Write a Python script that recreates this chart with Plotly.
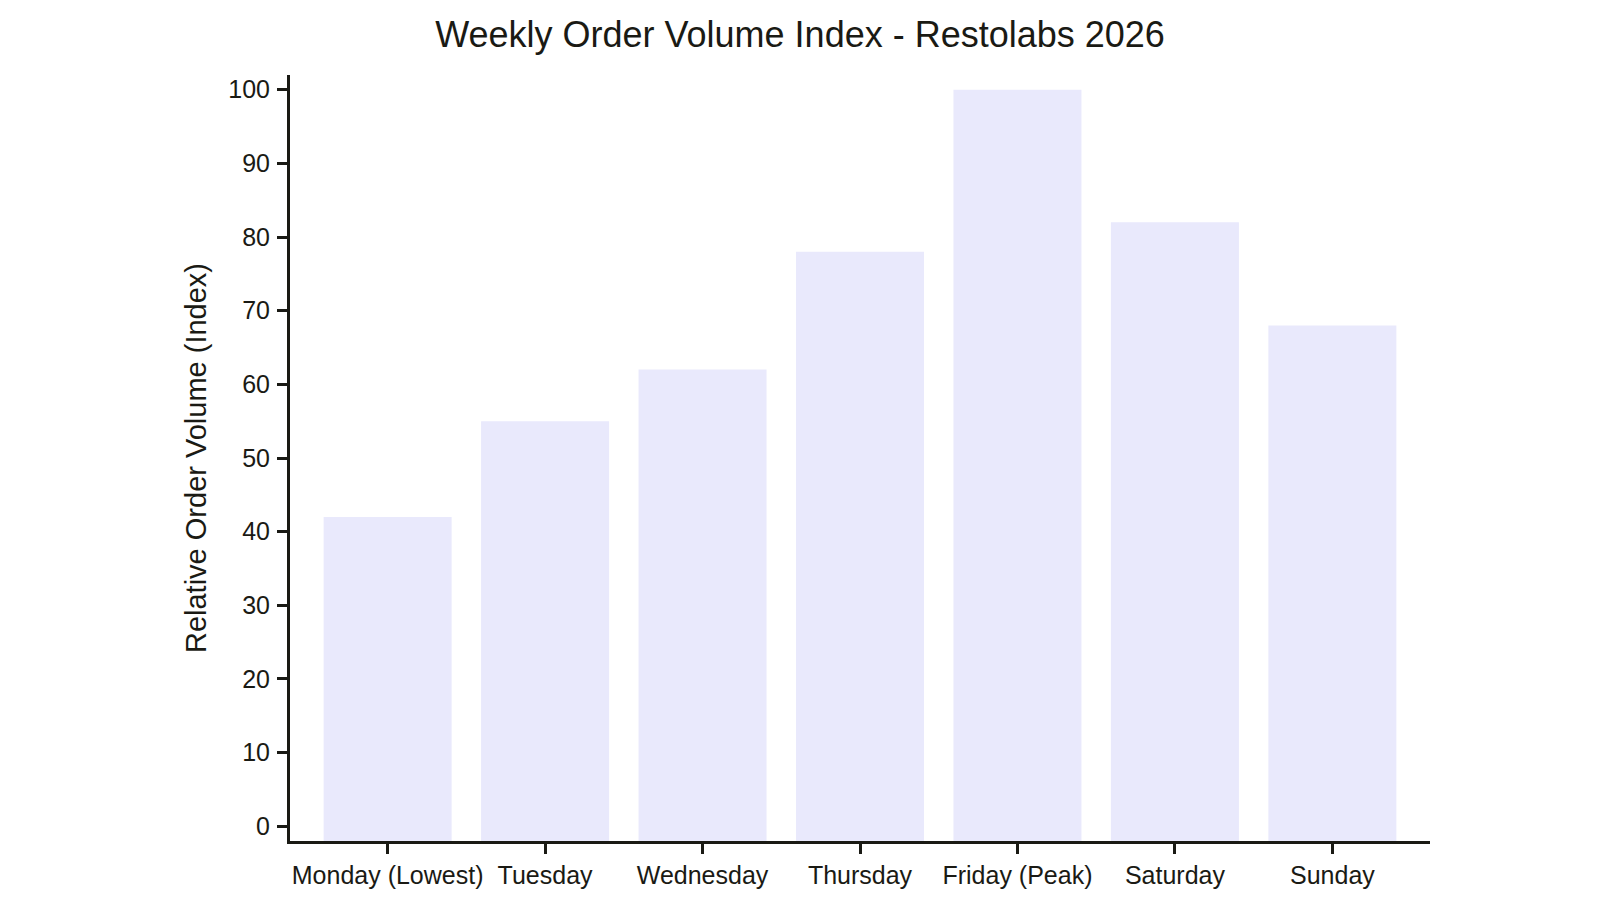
import plotly.graph_objects as go

# Weekly order volume index
days = ["Monday (Lowest)", "Tuesday", "Wednesday", "Thursday",
        "Friday (Peak)", "Saturday", "Sunday"]
order_index = [42, 55, 62, 78, 100, 82, 68]

y_ticks = list(range(0, 101, 10))

INK = "#1a1a14"
BAR = "#e9e9fc"
FONT = "Liberation Sans, Arial, sans-serif"

# the bars sit on the x axis line, a bit below zero
Y_FLOOR = -2
Y_TOP = 102

fig = go.Figure()
fig.add_trace(go.Bar(
    x=days,
    y=[v - Y_FLOOR for v in order_index],
    base=Y_FLOOR,
    customdata=order_index,
    hovertemplate="%{x}: %{customdata}<extra></extra>",
    marker=dict(color=BAR, line=dict(width=0)),
))

# page body adds an 8px margin, so the figure is 16px smaller than the window
fig.update_layout(
    width=1584,
    height=884,
    paper_bgcolor="white",
    plot_bgcolor="white",
    font=dict(family=FONT, color=INK, size=25),
    title=dict(
        text="Weekly Order Volume Index - Restolabs 2026",
        x=0.5,
        xanchor="center",
        y=0.9706,
        yanchor="middle",
        font=dict(size=36, color=INK),
    ),
    margin=dict(l=282, r=162, t=67, b=51),
    bargap=0.187,
    showlegend=False,
)

fig.update_xaxes(
    range=[-0.62, 6.62],
    automargin=False,
    showline=True,
    linewidth=3,
    linecolor=INK,
    ticks="outside",
    ticklen=10,
    tickwidth=3,
    tickcolor=INK,
    showgrid=False,
    tickfont=dict(size=25, color=INK),
)

fig.update_yaxes(
    range=[Y_FLOOR, Y_TOP],
    tickvals=y_ticks,
    automargin=False,
    showline=True,
    linewidth=3,
    linecolor=INK,
    ticks="outside",
    ticklen=10,
    tickwidth=3,
    tickcolor=INK,
    showgrid=False,
    zeroline=False,
    ticklabelstandoff=2,
    tickfont=dict(size=25, color=INK),
    title=dict(text="Relative Order Volume (Index)",
               font=dict(size=29, color=INK), standoff=14),
)

fig.write_html("out.html")
